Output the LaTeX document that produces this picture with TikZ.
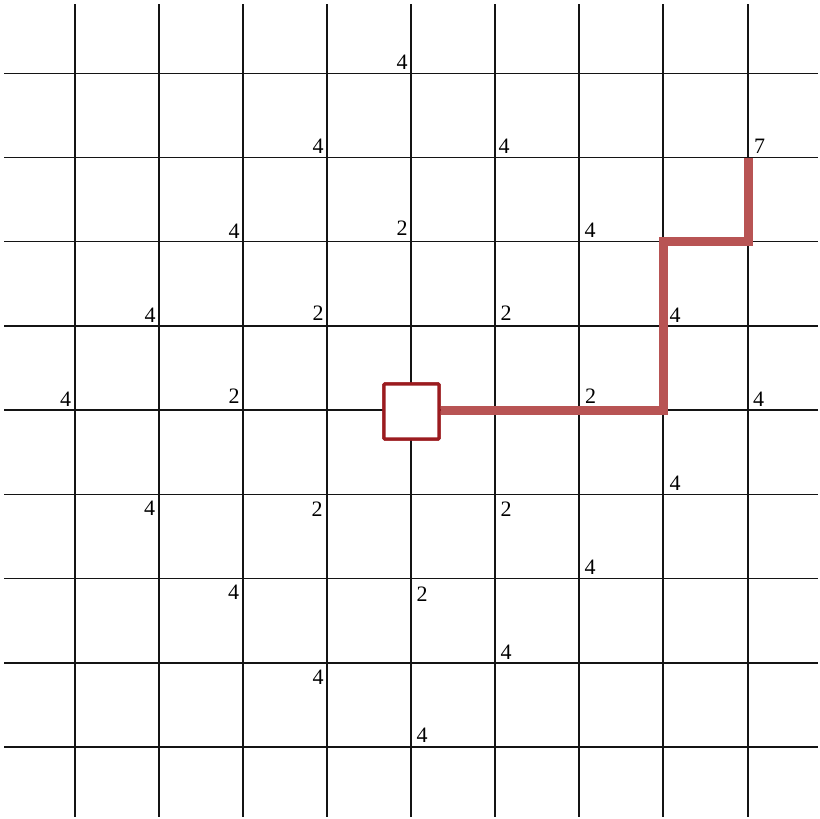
\documentclass[tikz,border=0pt]{standalone}
\usepackage{fontspec}
\setmainfont{Liberation Serif}
\definecolor{gridc}{RGB}{20,20,20}
\definecolor{sqred}{RGB}{155,27,31}
\definecolor{pathred}{RGB}{184,84,84}
\begin{document}
\begin{tikzpicture}[x=1pt,y=-1pt,
  gridline/.style={draw=gridc,line width=1.5pt},
  num/.style={inner sep=0pt,font=\fontsize{22}{22}\selectfont},
  startbox/.style={draw=sqred,fill=white,line width=3.3pt,rounded corners=1pt,minimum size=55pt,inner sep=0pt},
  route/.style={draw=pathred,line width=9.5pt,line join=miter,line cap=butt}]
\useasboundingbox (0,0) rectangle (820,819);
% grid
\foreach \gx in {75,159,243,327,411,495,579,663,748} {
  \draw[gridline] (\gx,4) -- (\gx,817);
}
\foreach \gy in {73.5,157.5,241.5,326,410,494.5,578.5,663,747} {
  \draw[gridline] (4,\gy) -- (818,\gy);
}
% route
\node[startbox] (c) at (411.5,411.5) {};
\coordinate (p1) at (663.5,410.5);
\coordinate (p2) at (663.5,241.5);
\coordinate (p3) at (748.5,241.5);
\coordinate (p4) at (748.5,157.5);
\draw[route] (c.east |- p1) -- (p1) -- (p2) -- (p3) -- (p4);
\node[startbox] at (c) {};
% labels
\node[num] (l1) at (402,62.5) {4};
\node[num] (l2) at (318,146) {4};
\node[num] (l3) at (504,146) {4};
\node[num] (l4) at (759.5,146.5) {7};
\node[num] (l5) at (234,231) {4};
\node[num] (l6) at (402,228) {2};
\node[num] (l7) at (590,230.5) {4};
\node[num] (l8) at (150,315) {4};
\node[num] (l9) at (318,313) {2};
\node[num] (l10) at (506,313) {2};
\node[num] (l11) at (675,315) {4};
\node[num] (l12) at (65.5,399.5) {4};
\node[num] (l13) at (234,396.5) {2};
\node[num] (l14) at (590.5,396.5) {2};
\node[num] (l15) at (758.5,399.5) {4};
\node[num] (l16) at (675,483) {4};
\node[num] (l17) at (149.5,508.5) {4};
\node[num] (l18) at (317,509.5) {2};
\node[num] (l19) at (506,509.5) {2};
\node[num] (l20) at (590,567) {4};
\node[num] (l21) at (233.5,592.5) {4};
\node[num] (l22) at (422,594) {2};
\node[num] (l23) at (506,652.5) {4};
\node[num] (l24) at (318,677) {4};
\node[num] (l25) at (422,735.5) {4};
\end{tikzpicture}
\end{document}
